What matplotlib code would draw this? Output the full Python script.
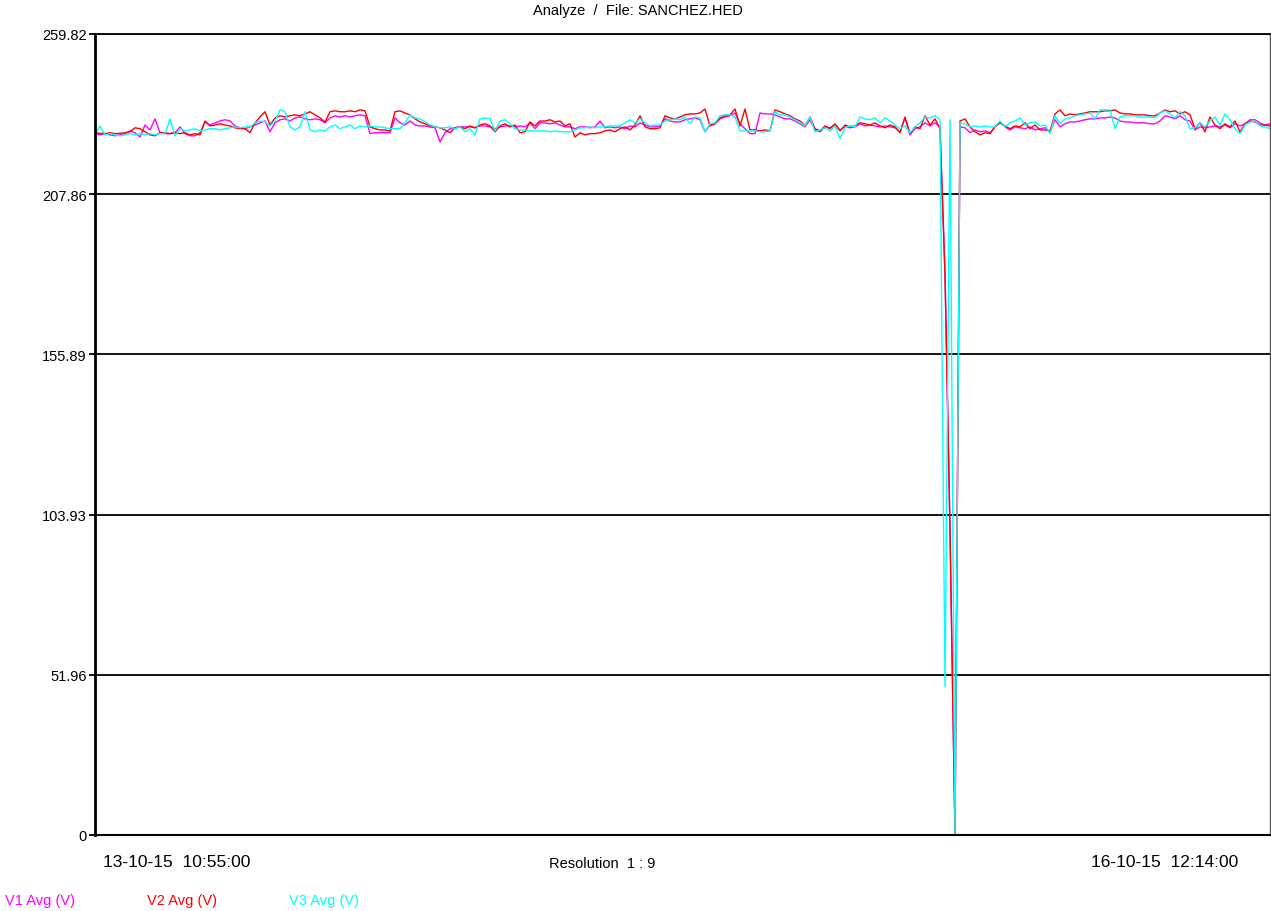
import numpy as np
import matplotlib
matplotlib.use("Agg")
import matplotlib.pyplot as plt

plt.rcParams['font.family'] = ['Liberation Sans', 'DejaVu Sans']

# %% data (volts, one sample per step)
v1_avg = [
    227.5, 227.1, 227.5, 227.1, 226.8, 227.1, 227.5, 228.4, 227.8, 226.4,
    230.3, 228.7, 232.3, 227.8, 227.5, 227.5, 227.8, 229.7, 227.5, 226.8,
    226.8, 227.8, 231.3, 230.3, 231.0, 231.6, 232.0, 231.6, 230.0, 229.4,
    229.1, 229.7, 230.3, 231.0, 231.6, 228.1, 231.0, 232.0, 232.3, 231.6,
    232.6, 232.9, 232.3, 232.0, 232.3, 232.0, 231.0, 232.6, 233.3, 232.9,
    233.3, 232.9, 233.3, 233.6, 233.3, 227.5, 227.8, 227.8, 227.8, 227.8,
    232.6, 231.0, 230.3, 231.6, 230.3, 230.0, 230.0, 229.7, 229.4, 224.8,
    227.8, 229.1, 229.4, 229.7, 229.7, 229.7, 229.4, 230.0, 230.0, 229.7,
    229.1, 229.7, 230.0, 230.0, 229.7, 230.0, 229.7, 231.0, 229.1, 231.0,
    231.0, 230.7, 231.0, 230.3, 229.7, 229.7, 229.1, 229.7, 229.7, 229.4,
    229.7, 231.6, 229.4, 229.7, 229.4, 229.7, 229.1, 230.0, 229.7, 231.0,
    230.3, 229.7, 229.7, 230.0, 232.3, 231.6, 231.3, 231.3, 232.0, 232.3,
    232.6, 232.0, 228.1, 230.3, 230.7, 232.3, 232.9, 233.3, 234.2, 230.7,
    229.1, 227.5, 227.5, 234.2, 233.9, 233.9, 233.6, 232.9, 232.3, 232.3,
    231.6, 230.7, 229.7, 232.0, 228.7, 228.1, 229.7, 229.4, 230.3, 228.7,
    229.7, 229.4, 229.7, 230.7, 230.0, 230.3, 230.0, 229.7, 230.0, 229.7,
    229.4, 228.1, 232.6, 227.1, 229.1, 229.7, 231.0, 230.0, 231.0, 229.7,
    182.0, 99.0, 0.0, 229.7, 229.4, 227.8, 228.7, 228.1, 228.4, 227.8,
    229.7, 231.3, 229.7, 228.7, 229.7, 229.4, 229.1, 229.7, 228.7, 229.1,
    229.4, 228.1, 232.0, 229.7, 230.7, 231.3, 231.3, 231.6, 232.0, 232.3,
    232.3, 232.6, 232.6, 232.9, 232.6, 231.6, 231.3, 231.3, 231.0, 231.0,
    231.0, 230.7, 230.7, 231.6, 233.3, 232.9, 232.3, 233.3, 232.0, 231.6,
    228.7, 229.7, 229.4, 229.7, 230.0, 229.7, 230.3, 229.4, 230.7, 230.0,
    230.7, 232.0, 232.0, 231.0, 230.3, 230.7,
]
v2_avg = [
    227.8, 227.6, 227.5, 227.8, 227.5, 227.6, 227.8, 228.1, 229.4, 229.1,
    228.1, 227.1, 226.8, 227.8, 227.8, 227.5, 227.8, 227.5, 227.8, 227.1,
    227.5, 227.1, 231.6, 230.0, 230.3, 230.7, 230.3, 230.0, 229.4, 229.1,
    229.1, 227.8, 231.0, 232.9, 234.6, 230.3, 232.6, 233.3, 232.9, 233.3,
    233.6, 233.3, 233.9, 234.6, 233.6, 232.6, 231.3, 234.6, 234.9, 234.6,
    234.6, 234.9, 234.6, 235.2, 234.9, 229.7, 229.1, 228.7, 228.7, 228.4,
    234.6, 234.9, 234.2, 233.6, 232.3, 231.3, 230.7, 230.0, 229.7, 229.4,
    228.7, 227.8, 229.4, 229.7, 229.1, 230.0, 229.4, 230.3, 230.7, 230.0,
    228.1, 230.0, 230.7, 229.7, 230.3, 227.8, 228.1, 231.3, 230.0, 231.6,
    231.6, 232.0, 231.3, 231.6, 230.0, 230.7, 226.4, 227.8, 227.1, 227.5,
    227.5, 227.8, 228.4, 228.7, 228.1, 229.1, 229.7, 228.7, 230.3, 233.3,
    229.7, 229.1, 229.1, 229.4, 233.3, 232.6, 232.3, 232.9, 233.6, 233.9,
    233.9, 234.2, 235.5, 230.0, 230.7, 232.6, 233.3, 233.6, 235.5, 230.0,
    235.5, 228.7, 228.7, 228.4, 228.7, 228.4, 235.2, 234.6, 233.9, 233.3,
    232.3, 231.6, 230.0, 232.9, 229.1, 228.4, 230.0, 229.1, 230.7, 228.4,
    230.3, 229.7, 230.0, 231.0, 230.7, 230.3, 231.0, 230.0, 229.4, 230.3,
    229.7, 227.8, 232.9, 227.5, 229.7, 229.1, 233.3, 230.3, 232.3, 229.1,
    182.0, 99.0, 0.0, 231.6, 232.3, 229.7, 228.1, 227.1, 227.8, 227.5,
    229.7, 231.0, 230.0, 229.1, 230.0, 229.7, 231.0, 229.1, 230.3, 228.7,
    228.7, 228.4, 233.9, 235.2, 233.3, 233.9, 233.6, 233.9, 234.2, 234.6,
    234.6, 234.6, 234.9, 234.9, 235.2, 234.2, 233.9, 233.9, 233.6, 233.6,
    233.6, 233.3, 233.3, 234.2, 235.2, 234.6, 234.9, 233.9, 234.6, 233.6,
    229.1, 231.0, 228.1, 232.9, 230.3, 229.1, 230.7, 229.7, 231.6, 228.1,
    230.7, 231.6, 231.3, 230.3, 230.3, 230.0,
]
v3_avg = [
    227.1, 230.0, 227.1, 227.5, 227.1, 226.8, 227.1, 227.5, 227.1, 227.5,
    227.1, 227.5, 227.1, 227.5, 227.5, 232.3, 226.8, 229.1, 228.4, 228.7,
    229.1, 228.4, 228.7, 229.1, 229.1, 228.7, 229.1, 229.4, 229.7, 229.4,
    229.7, 229.7, 231.0, 231.6, 231.3, 230.0, 231.6, 235.2, 234.6, 229.7,
    228.7, 229.7, 234.6, 228.7, 228.1, 228.7, 228.4, 229.7, 230.3, 229.1,
    229.7, 230.3, 229.1, 230.0, 229.7, 230.0, 229.7, 229.7, 229.4, 229.1,
    229.1, 229.1, 231.0, 233.6, 232.6, 232.3, 231.3, 230.3, 229.7, 229.4,
    229.4, 229.7, 229.1, 229.7, 228.1, 229.1, 227.1, 232.3, 232.6, 232.3,
    228.4, 231.6, 232.0, 230.7, 229.1, 228.7, 228.7, 228.4, 228.4, 228.4,
    228.4, 228.1, 228.4, 228.1, 228.1, 228.1, 228.7, 229.4, 229.4, 229.7,
    229.4, 229.7, 229.7, 230.0, 230.0, 230.0, 231.0, 232.0, 231.0, 232.3,
    231.0, 230.0, 230.3, 230.3, 231.6, 232.0, 232.3, 232.0, 232.9, 230.7,
    232.9, 232.6, 228.1, 230.7, 231.0, 233.3, 233.6, 233.6, 232.9, 228.4,
    228.4, 228.4, 228.4, 228.1, 228.1, 228.4, 234.6, 233.6, 233.6, 232.9,
    232.0, 231.0, 230.0, 232.9, 228.1, 228.7, 229.4, 228.4, 230.0, 225.8,
    229.4, 230.0, 229.7, 232.9, 232.3, 232.0, 232.6, 231.0, 232.6, 231.6,
    230.3, 229.1, 230.0, 227.8, 229.7, 231.0, 232.9, 232.6, 233.3, 232.0,
    48.0, 232.0, 0.0, 231.0, 230.7, 229.7, 230.0, 229.7, 230.0, 229.7,
    229.7, 231.6, 229.7, 231.0, 231.6, 232.6, 230.3, 231.0, 231.3, 230.0,
    230.3, 227.5, 233.3, 230.7, 232.3, 232.6, 233.3, 233.6, 233.9, 234.2,
    232.3, 235.2, 235.2, 235.2, 229.1, 232.9, 233.3, 233.3, 233.3, 232.9,
    232.9, 232.9, 232.6, 234.2, 234.9, 233.9, 232.6, 234.6, 233.3, 229.1,
    229.4, 231.0, 229.7, 231.6, 232.9, 230.3, 233.9, 232.0, 229.1, 227.5,
    230.3, 231.3, 231.6, 230.0, 229.7, 229.1,
]
y_ticks = [0, 51.96, 103.93, 155.89, 207.86, 259.82]
y_labels = ['0', '51.96', '103.93', '155.89', '207.86', '259.82']
series_names = ['V1 Avg (V)', 'V2 Avg (V)', 'V3 Avg (V)']
colors = ['#ff00ff', '#ff0000', '#00ffff']
start_label = '13-10-15  10:55:00'
end_label = '16-10-15  12:14:00'

# %% plot
fig = plt.figure(figsize=(12.71, 9.12), dpi=100)
ax = fig.add_axes([95 / 1271, 1 - 836 / 912, 1175 / 1271, 801 / 912])

samples = np.arange(len(v1_avg))
for vals, c in zip([v1_avg, v2_avg, v3_avg], colors):
    ax.plot(samples, vals, color=c, lw=1.0)

ax.set_xlim(0, len(v1_avg) - 1)
ax.set_ylim(0, 259.82)
ax.set_yticks(y_ticks)
ax.set_yticklabels(y_labels, fontsize=10.5)
ax.set_xticks([])
ax.yaxis.grid(True, color='black', lw=1.3)
ax.set_axisbelow(True)
ax.tick_params(axis='y', length=4, width=1.3, color='black', pad=2)

ax.spines['left'].set_linewidth(2)
ax.spines['top'].set_linewidth(1.3)
ax.spines['bottom'].set_linewidth(1.5)
ax.spines['right'].set_color('#555555')
ax.spines['right'].set_linewidth(1)

fig.text(638 / 1271, 1 - 11 / 912, 'Analyze  /  File: SANCHEZ.HED',
         ha='center', va='center', fontsize=10.5)
fig.text(103 / 1271, 1 - 863 / 912, start_label, ha='left', va='center', fontsize=12.5)
fig.text(1238 / 1271, 1 - 863 / 912, end_label, ha='right', va='center', fontsize=12.5)
fig.text(602 / 1271, 1 - 864 / 912, 'Resolution  1 : 9', ha='center', va='center',
         fontsize=10.5)

for name, c, xpix in zip(series_names, colors, [5, 147, 289]):
    fig.text(xpix / 1271, 1 - 901 / 912, name, color=c, ha='left', va='center',
             fontsize=10.5)

fig.savefig('out.png', dpi=100)
